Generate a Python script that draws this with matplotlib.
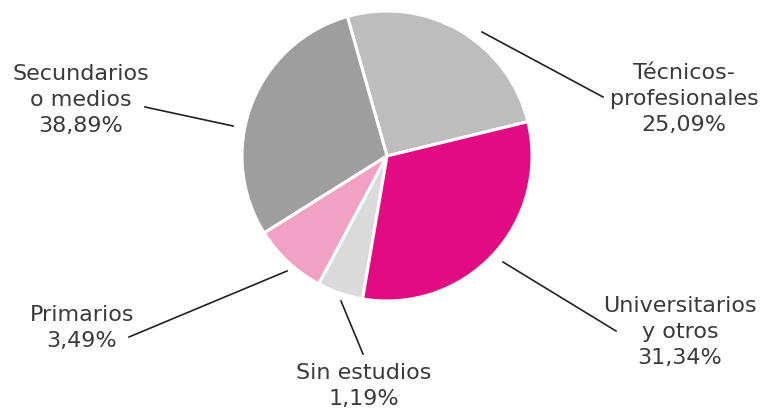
import matplotlib
matplotlib.use("Agg")
import matplotlib.pyplot as plt

# nivel de estudios
categorias = ["Técnicos-\nprofesionales", "Secundarios\no medios", "Primarios",
              "Sin estudios", "Universitarios\ny otros"]
porcentajes = ["25,09%", "38,89%", "3,49%", "1,19%", "31,34%"]
# tamaño de cada sector tal como aparece dibujado
sectores = [25.6, 29.5, 8.3, 5.1, 31.5]
colores = ["#bcbdbc", "#9d9e9d", "#f0a1c4", "#d9dad9", "#e30b84"]

W, H = 766, 410
fig = plt.figure(figsize=(W / 100, H / 100), dpi=100)
ax = fig.add_axes([0, 0, 1, 1])

ax.pie(sectores, colors=colores, center=(387, H - 157), radius=145,
       startangle=13.7, counterclock=True,
       wedgeprops=dict(edgecolor="white", linewidth=2.2))

ax.set_xlim(0, W)
ax.set_ylim(0, H)
ax.set_aspect("equal")
ax.axis("off")

# etiquetas: (x, y) del centro del bloque de texto, línea guía
etiquetas = [
    ((684, 99), ((482, 33), (603, 98))),
    ((81, 100), ((145, 108), (233, 127))),
    ((82, 328), ((287, 272), (129, 338))),
    ((364, 386), ((341, 302), (363, 355))),
    ((680, 332), ((503, 263), (616, 332))),
]
for cat, pct, ((tx, ty), (p0, p1)) in zip(categorias, porcentajes, etiquetas):
    ax.text(tx, H - ty, cat + "\n" + pct, ha="center", va="center",
            fontsize=16, color="#3a3a3a", linespacing=1.38,
            family="DejaVu Sans")
    ax.plot([p0[0], p1[0]], [H - p0[1], H - p1[1]], color="#222222", lw=1.2)

fig.savefig("out.png", dpi=100)
